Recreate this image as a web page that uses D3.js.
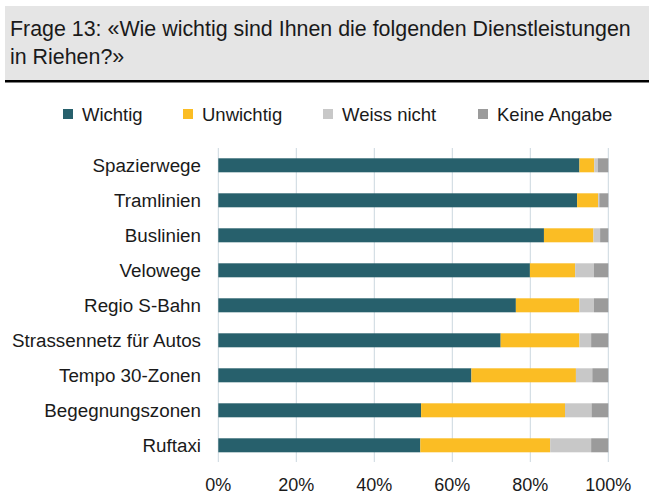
<!DOCTYPE html>
<html>
<head>
<meta charset="utf-8">
<script src="https://cdn.jsdelivr.net/npm/d3@7"></script>
<style>
  body { margin: 0; background: #fff; }
  text { font-family: "Liberation Sans", Arial, sans-serif; fill: #1a1a1a; }
</style>
</head>
<body>
<svg id="chart"></svg>
<script>
var width = 649,
    height = 497;

// data (percent)
var categories = ["Spazierwege", "Tramlinien", "Buslinien", "Velowege", "Regio S-Bahn",
    "Strassennetz für Autos", "Tempo 30-Zonen", "Begegnungszonen", "Ruftaxi"];
var wichtig     = [92.6, 92.0, 83.5, 79.9, 76.3, 72.4, 64.9, 52.0, 51.8];
var unwichtig   = [3.8, 5.4, 12.7, 11.6, 16.3, 20.2, 26.8, 36.9, 33.3];
var weissNicht  = [0.9, 0.3, 1.7, 4.8, 3.7, 3.0, 4.2, 6.8, 10.5];
var keineAngabe = [2.7, 2.3, 2.1, 3.7, 3.7, 4.4, 4.1, 4.3, 4.4];

var seriesNames = ["Wichtig", "Unwichtig", "Weiss nicht", "Keine Angabe"];
var seriesColors = ["#27606c", "#fbbd24", "#c8c8c8", "#9b9b9b"];
var tickValues = [0, 20, 40, 60, 80, 100];

var svg = d3.select("#chart")
    .attr("width", width)
    .attr("height", height);

// title box
svg.append("rect")
    .attr("x", 5).attr("y", 6)
    .attr("width", width - 5).attr("height", 75)
    .attr("fill", "#e5e5e5");
svg.append("rect")
    .attr("x", 5).attr("y", 80)
    .attr("width", width - 5).attr("height", 2.5)
    .attr("fill", "#000");

var title = svg.append("text")
    .attr("x", 10)
    .style("font-size", "21.4px");
title.append("tspan").attr("x", 10).attr("y", 36)
    .text("Frage 13: «Wie wichtig sind Ihnen die folgenden Dienstleistungen");
title.append("tspan").attr("x", 10).attr("y", 64)
    .text("in Riehen?»");

// legend
var legendX = [63, 183, 323, 478];
var legend = svg.selectAll(".legend")
    .data(seriesNames)
    .enter().append("g")
    .attr("class", "legend")
    .attr("transform", function(d, i) { return "translate(" + legendX[i] + ",109)"; });
legend.append("rect")
    .attr("width", 10).attr("height", 10)
    .attr("fill", function(d, i) { return seriesColors[i]; });
legend.append("text")
    .attr("x", 19).attr("y", 12)
    .style("font-size", "18.5px")
    .text(function(d) { return d; });

// scales
var x = d3.scaleLinear().domain([0, 100]).range([218.3, 608.3]);
var y = d3.scaleBand().domain(categories).range([147.8, 462.8]).paddingInner(0.6).paddingOuter(0.3);

// gridlines
svg.append("g")
    .selectAll("line")
    .data(tickValues)
    .enter().append("line")
    .attr("x1", function(d) { return x(d); })
    .attr("x2", function(d) { return x(d); })
    .attr("y1", 148)
    .attr("y2", 462)
    .attr("stroke", "#cbd8df")
    .attr("stroke-width", 1);

// stacked bars
var rows = categories.map(function(c, i) {
    return { cat: c, Wichtig: wichtig[i], Unwichtig: unwichtig[i],
             "Weiss nicht": weissNicht[i], "Keine Angabe": keineAngabe[i] };
});
var stack = d3.stack().keys(seriesNames)(rows);

svg.append("g")
    .selectAll("g")
    .data(stack)
    .enter().append("g")
    .attr("fill", function(d, i) { return seriesColors[i]; })
    .selectAll("rect")
    .data(function(d) { return d; })
    .enter().append("rect")
    .attr("x", function(d) { return x(d[0]); })
    .attr("width", function(d) { return x(d[1]) - x(d[0]); })
    .attr("y", function(d) { return y(d.data.cat); })
    .attr("height", y.bandwidth());

// category labels
svg.append("g")
    .selectAll("text")
    .data(categories)
    .enter().append("text")
    .attr("x", 201)
    .attr("y", function(d) { return y(d) + y.bandwidth() / 2; })
    .attr("dy", "0.36em")
    .attr("text-anchor", "end")
    .style("font-size", "18.8px")
    .text(function(d) { return d; });

// x tick labels
svg.append("g")
    .selectAll("text")
    .data(tickValues)
    .enter().append("text")
    .attr("x", function(d) { return x(d); })
    .attr("y", 491)
    .attr("text-anchor", "middle")
    .style("font-size", "18px")
    .text(function(d) { return d + "%"; });
</script>
</body>
</html>
